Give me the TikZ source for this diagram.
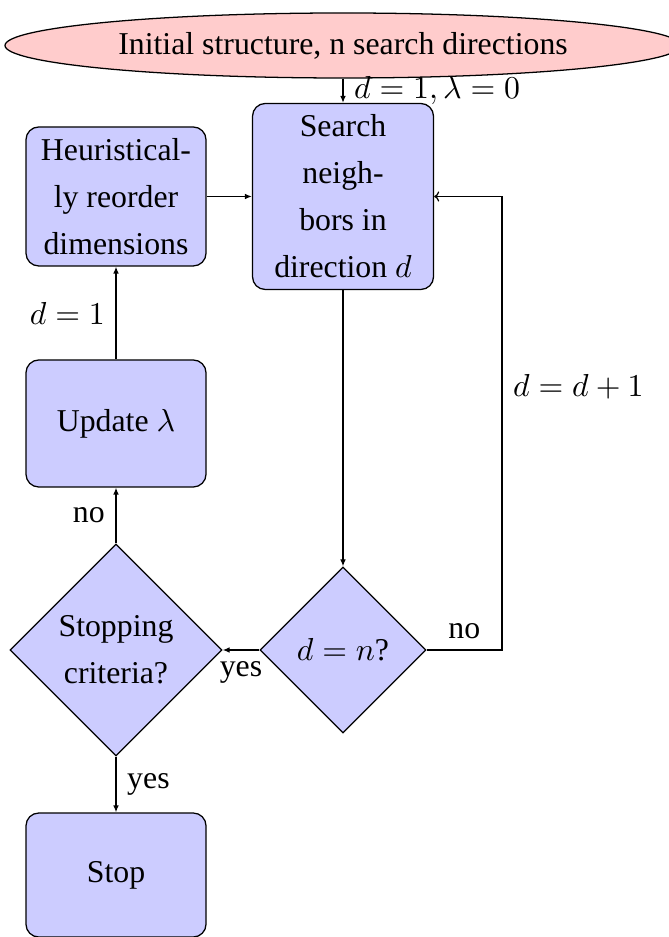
\documentclass[tikz,border=0pt]{standalone}
\usepackage[no-math]{fontspec}
\setmainfont{Liberation Serif}
\usetikzlibrary{shapes.geometric,arrows.meta}

% one drawing unit
\def\u{0.3145pt}

\tikzset{
  base/.style={draw=black, font=\fontsize{10}{14.8}\selectfont, align=center, inner sep=0pt},
  startnode/.style={base, ellipse, fill=red!20, minimum width=676*\u, minimum height=65*\u},
  procbox/.style={base, rectangle, rounded corners=4pt, fill=blue!20},
  decision/.style={base, diamond, fill=blue!20},
  conn/.style={draw, -{Latex[length=2.2pt, width=1.8pt]}},
  backconn/.style={draw, -{To[length=1.6pt, width=3.2pt]}},
  lbl/.style={font=\fontsize{10}{12}\selectfont}
}

\begin{document}
\begin{tikzpicture}[x=\u, y=-\u]
  \useasboundingbox (0,0) rectangle (669,937);

  \node[startnode] (init) at (343,45.5) {Initial structure, n search directions};
  \node[procbox, minimum width=181*\u, minimum height=186*\u] (search) at (343,196.5)
    {Search\\neigh-\\bors in\\direction $d$};
  \node[procbox, minimum width=180*\u, minimum height=139*\u] (heur) at (116,196.5)
    {Heuristical-\\ly reorder\\dimensions};
  \node[procbox, minimum width=180*\u, minimum height=127*\u] (update) at (116,423.5)
    {Update $\lambda$};
  \node[decision, minimum width=212*\u, minimum height=212*\u] (stopc) at (116,650)
    {Stopping\\criteria?};
  \node[decision, minimum width=166*\u, minimum height=166*\u] (dn) at (343,650)
    {$d=n$?};
  \node[procbox, minimum width=180*\u, minimum height=124*\u] (stop) at (116,875)
    {Stop};

  \coordinate (loopA) at (502,650);
  \coordinate (loopB) at (502,196.5);

  \draw[conn] (init) -- node[lbl, right] {$d=1,\lambda=0$} (search);
  \draw[conn] (search) -- (dn);
  \draw[backconn] (dn.east) -- node[lbl, above] {no} (loopA)
    -- node[lbl, right, pos=0.58] {$d=d+1$} (loopB) -- (search.east);
  \draw[conn] (dn.west) -- node[lbl, below] {yes} (stopc.east);
  \draw[conn] (stopc.north) -- node[lbl, left] {no} (update.south);
  \draw[conn] (update.north) -- node[lbl, left] {$d=1$} (heur.south);
  \draw[conn] (heur.east) -- (search.west);
  \draw[conn] (stopc.south) -- node[lbl, right] {yes} (stop.north);
\end{tikzpicture}
\end{document}
